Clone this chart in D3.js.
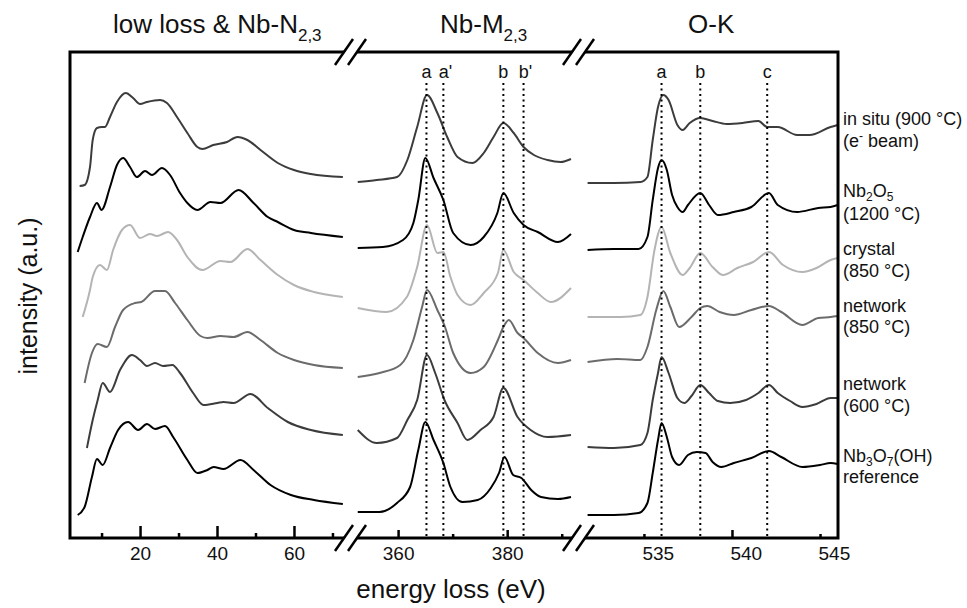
<!DOCTYPE html>
<html>
<head>
<meta charset="utf-8">
<script src="https://cdn.jsdelivr.net/npm/d3@7"></script>
<style>
  body { margin: 0; background: #fff; }
  text { font-family: "Liberation Sans", Arial, Helvetica, sans-serif; fill: #111; }
</style>
</head>
<body>
<svg id="chart" width="967" height="608"></svg>
<script>
// samples, top to bottom
const sampleNames = ['in situ (900 °C)', 'Nb2O5 (1200 °C)', 'crystal (850 °C)', 'network (850 °C)', 'network (600 °C)', 'Nb3O7(OH) reference'];

// low loss & Nb-N2,3 : [energy (eV), intensity (a.u., offset)]
const lowLoss = [
  [[4.3,352],[5.6,353],[7.0,371],[7.7,398],[8.8,410],[10.1,411],[10.9,411],[12.2,421],[14,436],[16.3,445],[18.2,440],[20,434],[21.8,436],[25.2,438],[27,435],[29.6,421],[32.3,405],[34.9,391],[36.2,389],[39,393],[42.6,396],[45.3,401],[47.9,398],[51.3,388],[55.8,375],[60,368],[64.4,364],[72.7,361]],
  [[3.8,286],[5.1,301],[7.0,321],[8.8,335],[10.0,328],[12.2,351],[14,373],[15.6,380],[17.4,371],[19.2,361],[21.3,367],[23.1,363],[25.7,370],[27.8,363],[30.4,345],[32.3,335],[34.9,328],[38.3,336],[40.9,335],[45.6,348],[49.5,335],[53.2,321],[55.8,316],[60,308],[64.4,305],[72.7,301]],
  [[5.1,221],[7.0,248],[7.7,261],[9.6,273],[11.4,268],[13,288],[15.3,308],[17.4,313],[20,300],[22.6,304],[24.4,302],[27.3,306],[29.6,298],[32.3,281],[36.2,268],[40.9,277],[43.5,276],[47.9,289],[51.3,278],[55.8,263],[60,253],[65.2,246],[72.7,241]],
  [[5.6,155],[7.5,185],[9.0,194],[11.4,191],[13.5,211],[15.6,228],[18.7,235],[20.3,236],[23.9,247],[26.5,247],[29.1,235],[32.3,218],[35.7,202],[37.5,200],[40.9,202],[44.3,201],[47.9,206],[51.3,198],[55.8,185],[60,178],[65.2,173],[72.7,170]],
  [[6.2,90],[7.7,118],[9.0,138],[10.3,155],[12.2,146],[14.8,168],[17.9,183],[20,178],[21.8,172],[23.9,175],[26,172],[28.4,173],[30.4,165],[33.8,145],[36.5,133],[40.1,135],[41.7,136],[44.3,135],[48.7,144],[53.2,130],[58.4,116],[64.4,108],[72.7,103]],
  [[3.8,23],[5.6,31],[7.5,61],[8.8,79],[10.3,73],[12.2,90],[14.3,108],[16.9,116],[19.5,108],[21.8,114],[23.9,109],[26.5,112],[28.6,101],[32.3,78],[34.9,65],[37.5,68],[39.1,71],[41.7,69],[46.1,78],[49.5,68],[53.9,53],[59.2,43],[65.2,38],[72.7,34]]
];

// Nb-M2,3
const nbM = [
  [[352.6,356],[356.1,358],[359.8,361],[361.7,378],[363.5,411],[365.3,443],[367.2,425],[369,401],[370.9,381],[373.6,375],[375.7,385],[377.5,401],[379.3,415],[381.2,405],[383,391],[384.9,383],[387.4,378],[389.8,376],[391.7,379]],
  [[352.6,290],[357.2,291],[360.9,298],[362.8,315],[363.7,338],[365,380],[366.5,360],[368.3,338],[370.1,305],[373.3,293],[375.7,301],[378.2,325],[379.3,345],[381.2,325],[383,313],[385.6,306],[389.3,296],[391.7,304]],
  [[352.6,230],[357.9,226],[361.6,241],[363.5,271],[365.3,313],[367.2,285],[368.3,286],[369.6,261],[370.9,243],[373.3,233],[375.7,245],[378.3,265],[379.3,288],[381.2,266],[383,258],[385.6,245],[388,236],[391.7,250]],
  [[352.6,161],[356.6,165],[360.4,173],[362.8,198],[364.4,231],[365.3,248],[367.2,228],[368.6,211],[370.1,185],[373.3,165],[375.7,171],[378.3,198],[379.3,211],[380.3,218],[381.9,205],[383,200],[385.6,185],[389.3,175],[391.7,178]],
  [[352.6,108],[356.1,95],[359.8,100],[361.7,118],[363.5,138],[365.3,183],[366.8,165],[368.5,138],[370.9,115],[372.7,98],[375.1,108],[377.5,121],[379.3,150],[381.9,121],[384.3,108],[387.4,101],[391.7,103]],
  [[352.6,26],[356.6,26],[359.8,35],[362.2,51],[363.7,88],[365,116],[366.5,98],[368.3,75],[369.6,51],[371.8,36],[374.6,38],[377,50],[378.5,65],[379.5,81],[381.1,63],[382.6,60],[384.4,48],[386.2,41],[389.3,39],[391.7,41]]
];

// O-K
const oK = [
  [[531.8,355],[533.3,355],[534.8,356],[535.2,361],[535.5,398],[535.8,431],[536.1,443],[536.4,438],[536.9,413],[537.2,408],[537.6,415],[538.2,420],[538.9,417],[539.7,414],[540.6,415],[541.5,417],[542,411],[542.6,411],[543.7,403],[544.4,403],[545.6,411],[546.0,413]],
  [[531.8,288],[533.3,289],[534.7,289],[535.2,301],[535.5,338],[535.8,370],[536,378],[536.3,368],[536.6,343],[536.9,331],[537.2,326],[537.5,333],[538.2,345],[538.7,333],[539.2,323],[540.1,326],[541.1,331],[542.1,345],[542.6,333],[543.7,326],[544.9,330],[545.6,331],[546.0,333]],
  [[531.8,221],[533.7,221],[534.8,223],[535.2,241],[535.6,288],[536,311],[536.5,285],[537.2,263],[537.6,270],[538.2,285],[538.9,271],[539.5,263],[540.3,270],[541.2,276],[542.1,286],[542.9,273],[544,266],[544.8,270],[545.6,278],[546.0,280]],
  [[531.8,176],[533.5,179],[534.8,178],[535.2,191],[535.7,228],[536.1,247],[536.5,231],[537,211],[537.7,221],[538.2,230],[538.6,232],[539.3,226],[540.1,223],[541.1,228],[542.1,232],[542.8,226],[544,213],[544.9,220],[545.6,221],[546.0,222]],
  [[531.8,91],[533.3,90],[534.8,93],[535.2,105],[535.5,138],[535.8,165],[536,181],[536.4,165],[536.9,140],[537.3,135],[537.7,142],[538.2,153],[538.7,145],[539.2,137],[539.9,135],[540.8,138],[541.5,145],[542.1,153],[542.6,145],[543.3,137],[544,131],[544.8,134],[545.6,140],[546.0,140]],
  [[531.8,23],[533.3,23],[534.7,25],[535.2,35],[535.5,65],[535.8,98],[536,115],[536.3,101],[536.6,81],[537,73],[537.5,83],[538,86],[538.5,85],[538.9,76],[539.4,71],[540.1,75],[541.1,80],[542.1,87],[542.8,81],[544,71],[545,73],[545.6,75],[546.0,74]]
];

// peak markers (eV)
const nbMMarks = [[365.2,'a'],[368.3,"a'"],[379.3,'b'],[383.0,"b'"]];
const oKMarks = [[536.0,'a'],[538.2,'b'],[542.0,'c']];

// tick values
const lowLossMajor = [20, 40, 60], lowLossMinor = [10, 30, 50, 70];
const nbMMajor = [360, 380], nbMMinor = [370, 390];
const oKMajor = [540], oKMinor = [535, 545], oKLabels = [535, 540, 545];

const lineColors = ['#3c3c3c', '#000', '#b4b4b4', '#6b6b6b', '#3c3c3c', '#000'];

const svg = d3.select('#chart');
const frame = { left: 70, right: 838, top: 52, bottom: 538 };
const breaks = [349, 577];

const y = d3.scaleLinear().domain([0, 486]).range([frame.bottom, frame.top]);

const panels = [
  { data: lowLoss, x: d3.scaleLinear().domain([1.8, 74.3]).range([frame.left, breaks[0]]),
    major: lowLossMajor, minor: lowLossMinor, majorLen: 12, minorLen: 5, labels: lowLossMajor, anchor: 'middle', dx: 0 },
  { data: nbM, x: d3.scaleLinear().domain([351.0, 392.8]).range([breaks[0], breaks[1]]),
    major: nbMMajor, minor: nbMMinor, majorLen: 8, minorLen: 4, labels: nbMMajor, anchor: 'middle', dx: 0 },
  { data: oK, x: d3.scaleLinear().domain([531.2, 546.02]).range([breaks[1], frame.right]),
    major: oKMajor, minor: oKMinor, majorLen: 8, minorLen: 4, labels: oKLabels, anchor: 'start', dx: -2 }
];

// spectra
panels.forEach(p => {
  const line = d3.line()
    .x(d => p.x(d[0]))
    .y(d => y(d[1]))
    .curve(d3.curveMonotoneX);
  svg.append('g').selectAll('path')
    .data(p.data)
    .enter().append('path')
      .attr('d', line)
      .attr('fill', 'none')
      .attr('stroke', (d, i) => lineColors[i])
      .attr('stroke-width', 2)
      .attr('stroke-linejoin', 'round');
});

// dotted peak markers
function drawMarks(x, marks) {
  const g = svg.append('g');
  g.selectAll('line').data(marks).enter().append('line')
    .attr('x1', d => x(d[0])).attr('x2', d => x(d[0]))
    .attr('y1', 83).attr('y2', frame.bottom)
    .attr('stroke', '#000').attr('stroke-width', 2)
    .attr('stroke-dasharray', '2,3.5');
  g.selectAll('text').data(marks).enter().append('text')
    .attr('x', d => x(d[0]) + (d[1].length > 1 ? 2 : 0))
    .attr('y', 78)
    .attr('text-anchor', 'middle')
    .attr('font-size', 18)
    .text(d => d[1]);
}
drawMarks(panels[1].x, nbMMarks);
drawMarks(panels[2].x, oKMarks);

// frame
svg.append('rect')
  .attr('x', frame.left).attr('y', frame.top)
  .attr('width', frame.right - frame.left).attr('height', frame.bottom - frame.top)
  .attr('fill', 'none').attr('stroke', '#000').attr('stroke-width', 3);

// axes (ticks point inward)
panels.forEach(p => {
  const gMaj = svg.append('g').attr('transform', `translate(0,${frame.bottom})`)
    .call(d3.axisBottom(p.x).tickValues(p.major).tickSize(-p.majorLen).tickFormat(''));
  const gMin = svg.append('g').attr('transform', `translate(0,${frame.bottom})`)
    .call(d3.axisBottom(p.x).tickValues(p.minor).tickSize(-p.minorLen).tickFormat(''));
  const gLab = svg.append('g').attr('transform', `translate(0,${frame.bottom})`)
    .call(d3.axisBottom(p.x).tickValues(p.labels).tickSize(0).tickPadding(9).tickFormat(d3.format('d')));
  [gMaj, gMin, gLab].forEach(g => {
    g.select('.domain').remove();
    g.selectAll('.tick line').attr('stroke', '#000').attr('stroke-width', 2.5);
  });
  gLab.attr('font-size', 19);
  gLab.selectAll('.tick text')
    .attr('font-size', 19).attr('font-family', '"Liberation Sans", Arial, sans-serif')
    .attr('fill', '#222').attr('text-anchor', p.anchor).attr('dx', p.dx);
});

// axis break marks
breaks.forEach(bx => {
  [frame.top, frame.bottom].forEach(by => {
    const g = svg.append('g').attr('transform', `translate(${bx},${by})`);
    g.append('polygon')
      .attr('points', '-12,9 0,9 12,-9 0,-9')
      .attr('transform', 'translate(2,0)')
      .attr('fill', '#fff');
    [-5, 8].forEach(off => {
      g.append('line')
        .attr('x1', off - 9).attr('y1', 13)
        .attr('x2', off + 9).attr('y2', -13)
        .attr('stroke', '#000').attr('stroke-width', 2.5);
    });
  });
});

// panel titles
function title(x, main, sub) {
  const t = svg.append('text').attr('x', x).attr('y', 33).attr('font-size', 26);
  t.append('tspan').text(main);
  if (sub) t.append('tspan').attr('dy', 8).attr('font-size', 17).text(sub);
}
title(113, 'low loss & Nb-N', '2,3');
title(440, 'Nb-M', '2,3');
title(688, 'O-K');

// sample labels on the right
const rightLabels = [
  [125, [['in situ (900 °C)']]],
  [147, [['(e'], ['-', 'sup'], [' beam)']]],
  [197, [['Nb'], ['2', 'sub'], ['O'], ['5', 'sub']]],
  [220, [['(1200 °C)']]],
  [255, [['crystal']]],
  [277, [['(850 °C)']]],
  [312, [['network']]],
  [333, [['(850 °C)']]],
  [390, [['network']]],
  [412, [['(600 °C)']]],
  [462, [['Nb'], ['3', 'sub'], ['O'], ['7', 'sub'], ['(OH)']]],
  [483, [['reference']]]
];
rightLabels.forEach(r => {
  const t = svg.append('text').attr('x', 843).attr('y', r[0]).attr('font-size', 18);
  r[1].forEach(part => {
    const s = t.append('tspan').text(part[0]);
    if (part[1] === 'sub') s.attr('font-size', 12).attr('baseline-shift', '-30%');
    if (part[1] === 'sup') s.attr('font-size', 12).attr('baseline-shift', '55%');
  });
});

// axis titles
svg.append('text')
  .attr('x', 451).attr('y', 598)
  .attr('text-anchor', 'middle').attr('font-size', 26)
  .text('energy loss (eV)');
svg.append('text')
  .attr('transform', 'translate(37,296) rotate(-90)')
  .attr('text-anchor', 'middle').attr('font-size', 25)
  .text('intensity (a.u.)');
</script>
</body>
</html>
